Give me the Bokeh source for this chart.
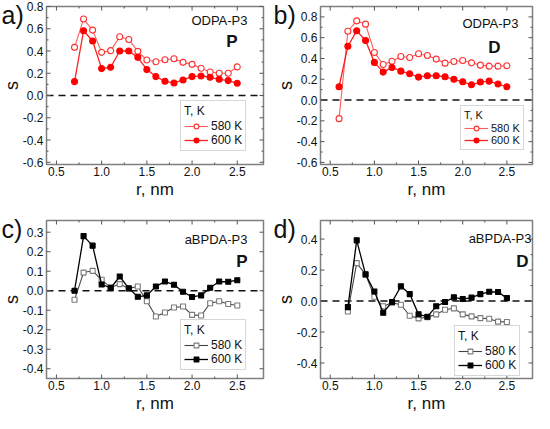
import math
from bokeh.plotting import figure
from bokeh.models import Range1d, Legend, LegendItem
from bokeh.core.properties import value
from bokeh.layouts import row, column
from bokeh.embed import file_html
from bokeh.resources import INLINE

FONT = "Liberation Sans"

# ---------------- data ----------------
r_a = [0.7, 0.8, 0.9, 1.0, 1.1, 1.2, 1.3, 1.4, 1.5, 1.6, 1.7, 1.8, 1.9, 2.0, 2.1, 2.2, 2.3, 2.4, 2.5]
a_580 = [0.433, 0.687, 0.588, 0.388, 0.403, 0.528, 0.504, 0.397, 0.319, 0.304, 0.322, 0.331,
         0.298, 0.280, 0.245, 0.212, 0.200, 0.200, 0.257]
a_600 = [0.125, 0.582, 0.490, 0.242, 0.254, 0.400, 0.400, 0.343, 0.233, 0.170, 0.128, 0.113,
         0.140, 0.170, 0.176, 0.164, 0.146, 0.134, 0.110]

r_b = [0.6, 0.7, 0.8, 0.9, 1.0, 1.1, 1.2, 1.3, 1.4, 1.5, 1.6, 1.7, 1.8, 1.9, 2.0, 2.1, 2.2, 2.3, 2.4, 2.5]
b_580 = [-0.179, 0.662, 0.762, 0.730, 0.458, 0.342, 0.374, 0.419, 0.410, 0.445, 0.429, 0.394,
         0.355, 0.371, 0.381, 0.358, 0.336, 0.326, 0.326, 0.330]
b_600 = [0.128, 0.518, 0.666, 0.573, 0.362, 0.269, 0.314, 0.278, 0.253, 0.221, 0.234, 0.234,
         0.224, 0.200, 0.176, 0.147, 0.173, 0.182, 0.154, 0.128]

r_c = [0.7, 0.8, 0.9, 1.0, 1.1, 1.2, 1.3, 1.4, 1.5, 1.6, 1.7, 1.8, 1.9, 2.0, 2.1, 2.2, 2.3, 2.4, 2.5]
c_580 = [-0.046, 0.093, 0.102, 0.056, 0.017, 0.034, 0.012, 0.022, -0.054, -0.132, -0.112, -0.086,
         -0.081, -0.124, -0.127, -0.064, -0.054, -0.068, -0.076]
c_600 = [0.000, 0.280, 0.231, 0.032, 0.014, 0.073, 0.012, -0.031, -0.024, 0.022, 0.047, 0.031,
         -0.005, -0.032, -0.024, 0.015, 0.047, 0.046, 0.054]

r_d = [0.7, 0.8, 0.9, 1.0, 1.1, 1.2, 1.3, 1.4, 1.5, 1.6, 1.7, 1.8, 1.9, 2.0, 2.1, 2.2, 2.3, 2.4, 2.5]
d_580 = [-0.067, 0.245, 0.172, 0.028, -0.034, -0.011, -0.024, -0.095, -0.112, -0.105, -0.086, -0.056,
         -0.047, -0.086, -0.099, -0.110, -0.114, -0.133, -0.135]
d_600 = [-0.039, 0.392, 0.172, 0.062, -0.075, -0.006, 0.095, 0.045, -0.086, -0.101, -0.034, -0.006,
         0.024, 0.013, 0.022, 0.045, 0.060, 0.058, 0.019]

x_ticks = [0.5, 1.0, 1.5, 2.0, 2.5]
x_minor = [0.75, 1.25, 1.75, 2.25]
yt_ab = [-0.6, -0.4, -0.2, 0.0, 0.2, 0.4, 0.6, 0.8]
ym_ab = [-0.5, -0.3, -0.1, 0.1, 0.3, 0.5, 0.7]
yt_c = [-0.4, -0.3, -0.2, -0.1, 0.0, 0.1, 0.2, 0.3]
ym_c = []
yt_d = [-0.4, -0.2, 0.0, 0.2, 0.4]
ym_d = [-0.3, -0.1, 0.1, 0.3]

series_names = ["580 K", "600 K"]
legend_title = "T, K"
x_label = "r, nm"
y_label = "s"

GRAY = "#7f7f7f"
TICK = "#555555"
TXT = "#111111"
XR = (0.39, 2.79)


def panel(r, s1, s2, yr, yt, ym, tag, name, big, style, geo, name_off, big_off,
          leg_pos, leg_fs):
    W, H, L, T, PW, PH = geo
    x0, x1 = XR
    y0, y1 = yr
    kx = (x1 - x0) / PW
    ky = (y1 - y0) / PH

    def X(px):
        return x0 + (px - L) * kx

    def Y(py):
        return y1 - (py - T) * ky

    p = figure(width=W, height=H, output_backend="svg", toolbar_location=None,
               x_range=Range1d(X(0), X(W)), y_range=Range1d(Y(H), Y(0)),
               x_axis_location=None, y_axis_location=None,
               min_border=0, min_border_left=0, min_border_right=0,
               min_border_top=0, min_border_bottom=0)
    for g in p.grid:
        g.visible = False
    p.outline_line_color = None
    p.background_fill_color = "white"
    p.border_fill_color = "white"

    # zero reference line
    p.line([x0, x1], [0, 0], line_color=TXT, line_width=1.5, line_dash="7 5")

    if style == "red":
        c1l, c1m, c2l, c2m, mk, sz = "#ff5c5c", "#ff3030", "#ff1f1f", "#ff0000", "circle", 6
    else:
        c1l, c1m, c2l, c2m, mk, sz = "#444444", "#7a7a7a", "#000000", "#000000", "square", 5

    l1 = p.line(r, s1, line_color=c1l, line_width=1.1)
    m1 = p.scatter(r, s1, marker=mk, size=sz, line_color=c1m, fill_color="white", line_width=1.1)
    l2 = p.line(r, s2, line_color=c2l, line_width=1.3)
    m2 = p.scatter(r, s2, marker=mk, size=sz, line_color=c2m, fill_color=c2m, line_width=1.1)

    # plot box
    p.quad(left=[x0], right=[x1], bottom=[y0], top=[y1], fill_color=None,
           line_color=GRAY, line_width=1.5)

    # inward ticks on all four sides
    def seg(xa, ya, xb, yb):
        p.segment(x0=xa, y0=ya, x1=xb, y1=yb, line_color=TICK, line_width=1)

    nx, nxm, ny, nym = len(x_ticks), len(x_minor), len(yt), len(ym)
    seg(x_ticks, [y0] * nx, x_ticks, [y0 + 4 * ky] * nx)
    seg(x_ticks, [y1] * nx, x_ticks, [y1 - 4 * ky] * nx)
    seg(x_minor, [y0] * nxm, x_minor, [y0 + 2 * ky] * nxm)
    seg(x_minor, [y1] * nxm, x_minor, [y1 - 2 * ky] * nxm)
    seg([x0] * ny, yt, [x0 + 4 * kx] * ny, yt)
    seg([x1] * ny, yt, [x1 - 4 * kx] * ny, yt)
    if nym:
        seg([x0] * nym, ym, [x0 + 2 * kx] * nym, ym)
        seg([x1] * nym, ym, [x1 - 2 * kx] * nym, ym)

    # tick labels
    p.text(x=x_ticks, y=[y0 - 2 * ky] * nx, text=["%.1f" % t for t in x_ticks],
           text_font=value(FONT), text_font_size=value("12px"), text_color=TXT,
           text_align="center", text_baseline="top")
    p.text(x=[x0 - 3 * kx] * ny, y=yt, text=["%.1f" % t for t in yt],
           text_font=value(FONT), text_font_size=value("12px"), text_color=TXT,
           text_align="right", text_baseline="middle")

    # axis titles
    p.text(x=[(x0 + x1) / 2], y=[y0 - 15 * ky], text=[x_label],
           text_font=value(FONT), text_font_size=value("17px"), text_color=TXT,
           text_align="center", text_baseline="top")
    p.text(x=[x0 - 35 * kx], y=[(y0 + y1) / 2], text=[y_label], angle=math.pi / 2,
           text_font=value(FONT), text_font_size=value("18px"), text_color=TXT,
           text_align="center", text_baseline="middle")

    # panel tag and in-plot annotations
    p.text(x=[X(1)], y=[Y(0)], text=[tag], text_font=value(FONT),
           text_font_size=value("25px"), text_color=TXT,
           text_align="left", text_baseline="top")
    p.text(x=[x1 - name_off[0] * kx], y=[y1 - name_off[1] * ky], text=[name],
           text_font=value(FONT), text_font_size=value("13px"), text_color=TXT,
           text_align="right", text_baseline="top")
    p.text(x=[x1 - big_off[0] * kx], y=[y1 - big_off[1] * ky], text=[big],
           text_font=value(FONT), text_font_size=value("17px"), text_font_style="bold",
           text_color=TXT, text_align="right", text_baseline="top")

    leg = Legend(items=[LegendItem(label=series_names[0], renderers=[l1, m1]),
                        LegendItem(label=series_names[1], renderers=[l2, m2])],
                 title=legend_title, location=leg_pos)
    leg.title_text_font = FONT
    leg.title_text_font_size = leg_fs
    leg.title_text_font_style = "normal"
    leg.title_text_color = TXT
    leg.title_standoff = 1
    leg.label_text_font = FONT
    leg.label_text_font_size = leg_fs
    leg.label_text_color = TXT
    leg.label_standoff = 3
    leg.label_height = 12
    leg.glyph_height = 12
    leg.glyph_width = 24
    leg.spacing = 0
    leg.padding = 3
    leg.margin = 0
    leg.border_line_color = "#b0b0b0"
    leg.border_line_width = 1
    leg.background_fill_alpha = 1.0
    p.add_layout(leg)
    return p


# geometry: (width, height, left, top, plot-box width, plot-box height) in px
pa = panel(r_a, a_580, a_600, (-0.62, 0.8), yt_ab, ym_ab, "a)", "ODPA-P3", "P", "red",
           (272, 214, 46, 6, 217, 158), (16, 6.5), (26, 25), (180, 63), "12px")
pb = panel(r_b, b_580, b_600, (-0.62, 0.9), yt_ab, ym_ab, "b)", "ODPA-P3", "D", "red",
           (262, 214, 48, 6, 212, 158), (14, 9.5), (32, 31), (188, 64), "11px")
pc = panel(r_c, c_580, c_600, (-0.45, 0.36), yt_c, ym_c, "c)", "aBPDA-P3", "P", "gray",
           (272, 199, 46, 6, 217, 158), (16, 11.5), (16, 31), (180, 43), "12px")
pd = panel(r_d, d_580, d_600, (-0.5, 0.52), yt_d, ym_d, "d)", "aBPDA-P3", "D", "gray",
           (262, 199, 48, 6, 212, 158), (1, 10.5), (4, 31), (182, 37), "12px")

layout = column(row(pa, pb), row(pc, pd))
open("out.html", "w").write(file_html(layout, INLINE))
